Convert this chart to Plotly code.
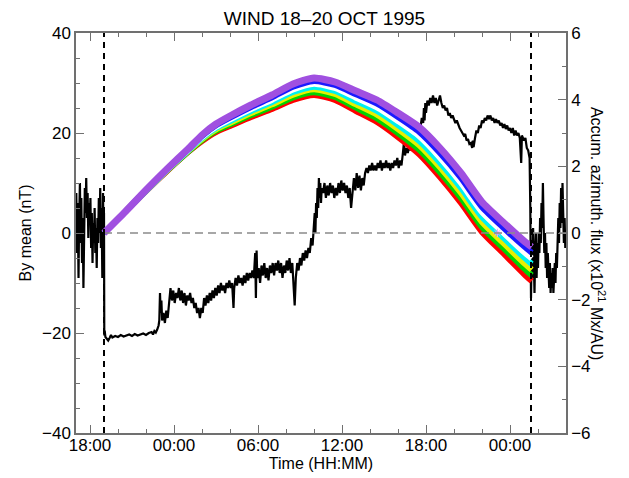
import plotly.graph_objects as go
import pandas as pd

# ---------------- data ----------------
start_time = pd.Timestamp("1995-10-18 17:00")
end_hours = 35.0                      # axis runs to 04:00 on Oct 20
mc_boundaries_h = [2.0, 32.5]         # 19:00 Oct 18, ~01:30 Oct 20
star_h = [30.1]                       # grey asterisk on the zero line
star_v = [0.0]

# By (nT): (hours after 17:00 Oct 18, value)
by_samples = [
    (0.02, 8), (0.08, -4), (0.12, 6), (0.18, -9), (0.22, 2), (0.28, 10), (0.33, -2), (0.38, 7),
    (0.43, -6), (0.48, 3), (0.53, -11), (0.58, 1), (0.63, 9), (0.68, 4), (0.73, 11), (0.78, 3),
    (0.83, 8), (0.88, -1), (0.93, 6), (0.98, 2), (1.03, 7), (1.08, -3), (1.13, 4), (1.18, -6),
    (1.23, 2), (1.28, -2), (1.33, 5), (1.38, -4), (1.43, 1), (1.48, -7), (1.53, 3), (1.58, -2),
    (1.63, 7), (1.68, 0), (1.73, 9), (1.78, -3), (1.83, 5), (1.88, -9), (1.93, 8), (1.97, -2),
    (2.0, 4),
    (2.02, -20.5), (2.05, -19.5), (2.1, -20.8), (2.2, -21.2), (2.3, -21.5), (2.4, -21.0),
    (2.5, -20.4), (2.6, -20.9), (2.8, -20.6), (3.0, -20.8), (3.2, -20.4), (3.4, -20.7),
    (3.6, -20.5), (3.8, -20.3), (4.0, -20.6), (4.2, -20.2), (4.4, -20.5), (4.6, -20.3),
    (4.8, -20.1), (5.0, -20.4), (5.2, -20.0), (5.4, -19.8), (5.5, -20.3), (5.6, -19.6),
    (5.7, -19.9), (5.8, -19.3), (5.9, -18.5),
    (5.95, -17.5), (6.0, -12), (6.05, -16), (6.1, -13.5), (6.15, -17.5), (6.25, -16),
    (6.35, -18), (6.45, -15.5), (6.55, -17), (6.65, -14), (6.75, -11), (6.85, -13.5),
    (6.95, -11.5), (7.05, -14), (7.15, -12), (7.25, -13), (7.35, -11), (7.45, -13.5),
    (7.55, -11.5), (7.65, -14), (7.75, -12), (7.85, -14.5), (7.95, -12.5), (8.05, -13.5),
    (8.15, -12), (8.25, -14), (8.35, -13), (8.45, -15), (8.55, -14), (8.65, -16),
    (8.75, -15), (8.85, -17), (8.95, -15), (9.05, -16), (9.15, -13), (9.25, -14.5),
    (9.35, -12.5), (9.45, -14), (9.55, -12), (9.65, -13.5), (9.75, -11.5), (9.85, -13),
    (9.95, -11), (10.05, -12.5), (10.15, -10.5), (10.25, -12), (10.35, -10), (10.45, -11.5),
    (10.55, -10.5), (10.65, -12), (10.75, -10), (10.85, -11), (10.95, -9.5), (11.05, -11),
    (11.15, -10), (11.25, -15), (11.3, -11), (11.4, -9), (11.5, -10.5), (11.6, -8.5),
    (11.7, -10), (11.8, -9), (11.9, -10.5), (12.0, -8.5), (12.1, -10), (12.2, -8),
    (12.3, -9.5), (12.4, -8), (12.5, -9), (12.6, -7.5), (12.7, -9), (12.8, -4),
    (12.85, -13), (12.9, -3.5), (12.95, -9), (13.05, -7), (13.15, -10), (13.25, -6.5),
    (13.35, -8.5), (13.45, -6), (13.55, -9), (13.65, -7), (13.75, -9.5), (13.85, -6.5),
    (13.95, -8), (14.05, -6), (14.15, -8.5), (14.25, -6), (14.35, -7.5), (14.45, -5.5),
    (14.55, -8), (14.65, -6), (14.75, -9), (14.85, -6.5), (14.95, -8), (15.05, -5.5),
    (15.15, -7.5), (15.25, -5), (15.35, -8), (15.45, -6), (15.55, -10), (15.62, -14.5),
    (15.7, -9), (15.8, -6), (15.9, -7.5), (16.0, -5), (16.1, -6.5), (16.2, -4),
    (16.3, -5.5), (16.4, -3.5), (16.5, -5), (16.6, -3), (16.7, -4), (16.8, -1),
    (16.9, -2.5), (17.0, 1),
    (17.05, 4), (17.1, 0), (17.15, 6), (17.2, 3), (17.25, 9), (17.3, 5), (17.35, 11),
    (17.4, 7), (17.45, 10), (17.5, 6), (17.55, 9),
    (17.65, 8), (17.75, 10), (17.85, 7), (17.95, 9.5), (18.05, 7.5), (18.15, 10), (18.25, 8),
    (18.35, 9.5), (18.45, 7), (18.55, 9), (18.65, 7.5), (18.75, 10), (18.85, 8), (18.95, 10.5),
    (19.05, 8.5), (19.15, 10), (19.25, 8), (19.35, 9.5), (19.45, 7), (19.55, 9), (19.65, 5),
    (19.75, 9), (19.85, 11), (19.95, 8.5), (20.05, 12), (20.15, 9), (20.25, 11.5), (20.35, 8.5),
    (20.45, 11), (20.55, 9.5), (20.65, 12), (20.75, 13), (20.85, 12), (20.95, 13.5),
    (21.05, 12.5), (21.15, 14), (21.25, 12.5), (21.35, 13.5), (21.45, 12.5), (21.55, 14),
    (21.65, 13), (21.75, 14.5), (21.85, 12.5), (21.95, 14), (22.05, 13), (22.15, 14.5),
    (22.25, 13), (22.35, 14), (22.45, 12.5), (22.55, 14), (22.65, 13), (22.75, 14.5),
    (22.85, 13.5), (22.95, 15), (23.05, 13), (23.15, 14.5), (23.25, 13.5),
    (23.35, 16), (23.42, 18), (23.5, 15.5), (23.6, 17), (23.7, 16), (23.8, 17.5), (23.9, 16.5),
    (24.0, 18), (24.1, 17), (24.2, 19), (24.3, 18), (24.4, 20), (24.5, 19), (24.6, 21),
    (24.7, 23), (24.8, 22),
    (24.85, 25), (24.9, 22.5), (24.95, 26), (25.0, 24), (25.1, 26.5), (25.2, 25.5), (25.3, 27),
    (25.4, 26), (25.5, 27.5), (25.6, 26), (25.7, 27), (25.8, 25.5), (25.9, 26.5), (26.0, 27.5),
    (26.1, 26), (26.2, 25), (26.3, 25.5), (26.4, 24.5), (26.5, 25), (26.6, 23.5), (26.7, 24),
    (26.8, 23), (26.9, 23.5), (27.0, 22.5), (27.1, 22), (27.2, 22.5), (27.3, 21.5), (27.4, 21),
    (27.5, 20.5), (27.6, 20), (27.7, 19.5), (27.8, 19.8), (27.9, 18.5), (28.0, 18.8),
    (28.1, 17.8), (28.2, 18), (28.3, 17), (28.35, 18.5), (28.4, 17.2), (28.5, 19), (28.6, 20.5),
    (28.7, 20), (28.8, 21.5), (28.9, 21), (29.0, 22.5), (29.1, 22), (29.2, 23), (29.3, 22.5),
    (29.4, 23.5), (29.5, 22.8), (29.6, 23.5), (29.7, 22.5), (29.8, 23), (29.9, 22), (30.0, 22.8),
    (30.1, 22), (30.2, 22.5), (30.3, 21.5), (30.4, 22), (30.5, 21), (30.6, 21.8), (30.7, 20.8),
    (30.8, 21.5), (30.9, 20.5), (31.0, 21), (31.1, 20), (31.2, 21), (31.3, 19.5), (31.4, 20.5),
    (31.5, 19.5), (31.6, 20), (31.7, 19), (31.8, 14), (31.85, 19.5), (31.9, 19), (32.0, 18.5),
    (32.1, 19), (32.2, 17), (32.3, 16.5), (32.4, 15),
    (32.45, 5), (32.5, -13), (32.55, -3), (32.6, -9), (32.65, 1), (32.7, -6), (32.75, -12),
    (32.8, -4), (32.85, 0), (32.9, -9), (32.95, -2), (33.0, -7), (33.05, 0), (33.1, -4),
    (33.15, 3), (33.2, -2), (33.25, 6), (33.3, 1), (33.35, 10), (33.4, 2), (33.45, -4),
    (33.5, 0), (33.55, -7), (33.6, -2), (33.65, -9), (33.7, -4), (33.75, -8), (33.8, -11),
    (33.85, -6), (33.9, -12), (33.95, -8), (34.0, -11), (34.05, -7), (34.1, -12), (34.15, -9),
    (34.2, -6), (34.25, -10), (34.3, -4), (34.35, -7), (34.4, -1), (34.45, 3), (34.5, -2),
    (34.55, 6), (34.6, 1), (34.65, 9), (34.7, 2), (34.75, 10), (34.8, 4), (34.85, -2),
    (34.9, 3), (34.95, -3),
]

# accumulated azimuthal flux (x10^21 Mx/AU)
flux_hours = [2, 3.5, 5, 6.5, 8, 9, 10, 11, 12.5, 14, 15.5, 17, 18.5, 20, 21.5, 23,
              24.5, 26, 27.5, 29, 30.5, 32, 32.55]
flux_purple = [0.00, 0.63, 1.29, 1.92, 2.52, 2.94, 3.27, 3.51, 3.84, 4.14, 4.47, 4.65,
               4.53, 4.26, 3.99, 3.60, 3.18, 2.55, 1.80, 0.93, 0.33, -0.24, -0.42]
flux_blue = [0.00, 0.63, 1.28, 1.91, 2.50, 2.91, 3.23, 3.46, 3.78, 4.07, 4.39, 4.56,
             4.44, 4.16, 3.88, 3.48, 3.04, 2.40, 1.65, 0.78, 0.17, -0.40, -0.59]
flux_white = [0.00, 0.63, 1.28, 1.90, 2.49, 2.88, 3.19, 3.41, 3.72, 4.00, 4.31, 4.48,
              4.35, 4.06, 3.77, 3.36, 2.91, 2.26, 1.50, 0.63, 0.02, -0.57, -0.76]
flux_cyan = [0.00, 0.63, 1.27, 1.89, 2.47, 2.85, 3.15, 3.36, 3.66, 3.93, 4.23, 4.39,
             4.26, 3.96, 3.66, 3.24, 2.77, 2.11, 1.35, 0.48, -0.13, -0.73, -0.93]
flux_yellow = [0.00, 0.63, 1.27, 1.88, 2.46, 2.82, 3.11, 3.31, 3.60, 3.86, 4.15, 4.31,
               4.17, 3.86, 3.55, 3.12, 2.64, 1.97, 1.20, 0.33, -0.29, -0.90, -1.10]
flux_green = [0.00, 0.63, 1.26, 1.87, 2.44, 2.79, 3.07, 3.26, 3.54, 3.79, 4.07, 4.22,
              4.08, 3.76, 3.44, 3.00, 2.50, 1.82, 1.05, 0.18, -0.44, -1.06, -1.27]
flux_red = [0.00, 0.63, 1.26, 1.86, 2.43, 2.76, 3.03, 3.21, 3.48, 3.72, 3.99, 4.14,
            3.99, 3.66, 3.33, 2.88, 2.37, 1.68, 0.90, 0.03, -0.60, -1.23, -1.44]

# ---------------- helpers ----------------
def to_time(hours):
    return [start_time + pd.Timedelta(hours=h) for h in hours]

by_t = to_time([s[0] for s in by_samples])
by_v = [s[1] for s in by_samples]
flux_t = to_time(flux_hours)
x_range = to_time([0.0, end_hours])
mc_t = to_time(mc_boundaries_h)

FONT = "Liberation Sans, Arial, Helvetica, sans-serif"
AX = "#707070"

fig = go.Figure()
fig.add_trace(go.Scatter(x=by_t, y=by_v, mode="lines",
                         line=dict(color="black", width=2.2), yaxis="y",
                         showlegend=False))

# rainbow flux curves (bottom first, purple on top)
rainbow = [(flux_red, "#ff0000", 6), (flux_green, "#00d200", 6), (flux_yellow, "#e8f000", 6),
           (flux_cyan, "#00f0f0", 6), (flux_white, "#ffffff", 6), (flux_blue, "#1a1aff", 6),
           (flux_purple, "#a050e0", 7)]
for vals, col, w in rainbow:
    fig.add_trace(go.Scatter(x=flux_t, y=vals, mode="lines", yaxis="y2",
                             line=dict(color=col, width=w, shape="spline", smoothing=0.6),
                             showlegend=False))

fig.add_trace(go.Scatter(x=to_time(star_h), y=star_v, mode="markers", yaxis="y2",
                         marker=dict(symbol="asterisk-open", size=7,
                                     line=dict(color="#888888", width=1)),
                         showlegend=False))

# zero line and MC boundaries
fig.add_shape(type="line", xref="x", yref="y2", x0=mc_t[0], x1=x_range[1], y0=0, y1=0,
              line=dict(color="#8a8a8a", width=1.5, dash="8px,5px"), layer="above")
for t in mc_t:
    fig.add_shape(type="line", xref="x", yref="paper", x0=t, x1=t, y0=0, y1=1,
                  line=dict(color="black", width=2, dash="6px,5px"), layer="above")

tick_common = dict(ticks="inside", ticklen=8, tickwidth=1.3, tickcolor=AX,
                   showline=True, linecolor=AX, linewidth=1.5, showgrid=False,
                   zeroline=False, automargin=False,
                   tickfont=dict(size=17, color="black", family=FONT))

# the page body adds an 8 px offset, so the figure is 8 px smaller than the window
fig.update_layout(
    width=621, height=470,
    margin=dict(l=68, r=63, t=25, b=45, autoexpand=False),
    paper_bgcolor="white", plot_bgcolor="white",
    font=dict(family=FONT, color="black"),
    title=dict(text="WIND 18\u201320 OCT 1995", x=0.507, xref="paper", y=0.979,
               yref="container", yanchor="middle", automargin=False,
               font=dict(size=19, family=FONT)),
    xaxis=dict(type="date", range=x_range, tick0="1995-10-18 18:00", dtick=21600000,
               tickformat="%H:%M", mirror="ticks", ticklabelstandoff=-4,
               minor=dict(dtick=7200000, tick0="1995-10-18 18:00", ticks="inside",
                          ticklen=4, tickcolor=AX, tickwidth=1.3),
               title=dict(text="Time (HH:MM)", font=dict(size=16), standoff=0),
               **tick_common),
    yaxis=dict(range=[-40, 40], tick0=-40, dtick=20,
               minor=dict(dtick=5, ticks="inside", ticklen=4, tickcolor=AX, tickwidth=1.3),
               title=dict(text="By mean (nT)", font=dict(size=16), standoff=6),
               **tick_common),
    yaxis2=dict(range=[-6, 6], tick0=-6, dtick=2, overlaying="y", side="right",
                minor=dict(dtick=1, ticks="inside", ticklen=4, tickcolor=AX, tickwidth=1.3),
                **tick_common),
    annotations=[dict(text="Accum. azimuth. flux (x10<sup>21</sup> Mx/AU)",
                      xref="paper", yref="paper", x=1.09, y=0.5, textangle=90,
                      showarrow=False, font=dict(size=16, family=FONT))],
)

fig.write_html("out.html")
